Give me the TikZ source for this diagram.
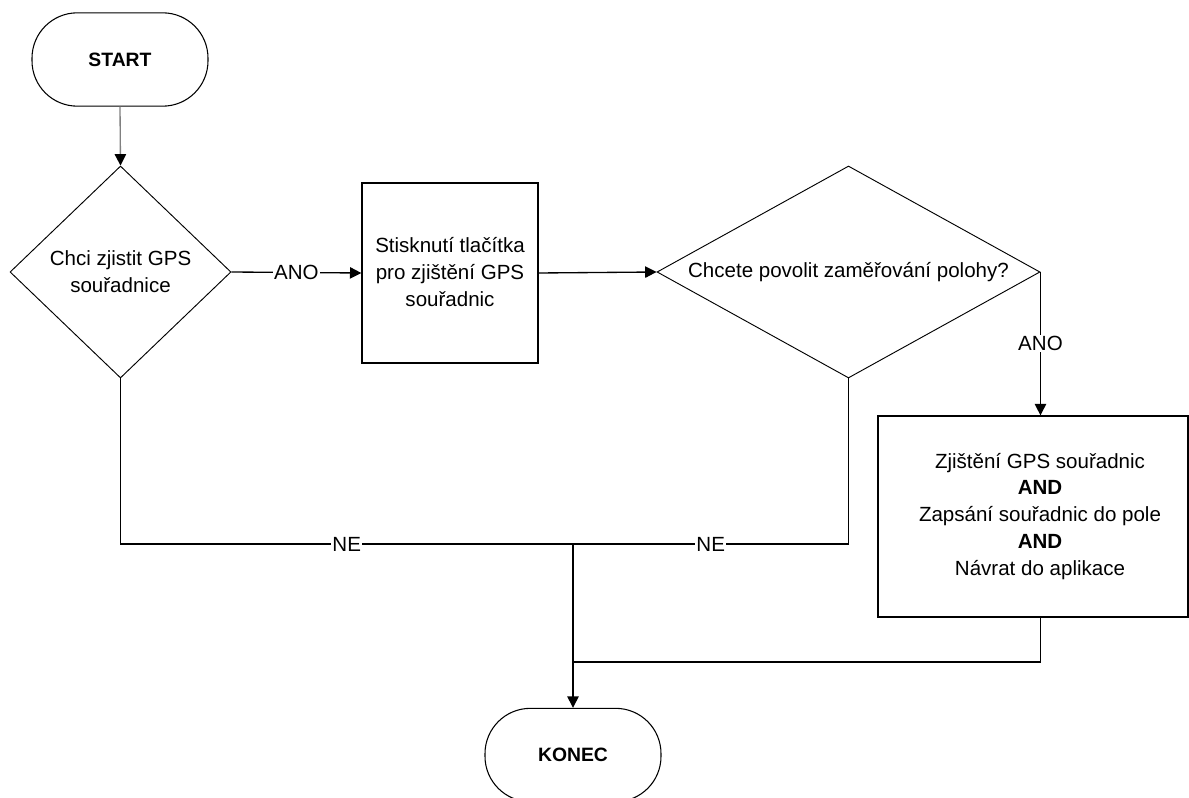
\documentclass[tikz,border=0pt]{standalone}
\usepackage{fontspec}
\setmainfont{Liberation Sans}
\usetikzlibrary{shapes.geometric,arrows.meta}
\begin{document}
\begin{tikzpicture}[x=0.75pt,y=-0.75pt,
  every node/.style={font=\fontsize{15.4pt}{20.2pt}\selectfont, align=center},
  term/.style={draw, line width=0.8pt, rectangle, rounded corners=34pt, minimum width=132pt, minimum height=70pt, inner sep=0pt, font=\fontsize{14.5pt}{18pt}\selectfont\bfseries},
  dec/.style={draw, line width=0.7pt, diamond, inner sep=0pt},
  proc/.style={draw, line width=1pt, rectangle, inner sep=0pt},
  txt/.style={inner sep=0pt},
  lbl/.style={fill=white, inner sep=1pt},
  conn/.style={line width=1pt},
  arr/.style={conn, -{Triangle[length=8.5pt,width=8.5pt]}}
]
\useasboundingbox (0,0) rectangle (1189,798);

\node[term] (start) at (120,59.5) {START};
\node[dec, minimum width=165.75pt, minimum height=159pt] (d1) at (120.5,272) {};
\node[txt] (t1) at (120.5,272) {Chci zjistit GPS\\souřadnice};
\node[proc, minimum width=132pt, minimum height=135pt] (b2) at (450,273) {};
\node[txt] (t2) at (450,272) {Stisknutí tlačítka\\pro zjištění GPS\\souřadnic};
\node[dec, minimum width=287.25pt, minimum height=159pt] (d2) at (848.5,272) {};
\node[txt] (t3) at (848.5,272) {Chcete povolit zaměřování polohy?};
\node[proc, minimum width=232.5pt, minimum height=150.75pt] (b3) at (1033,516.5) {};
\node[txt] (t4) at (1040,516.5) {Zjištění GPS souřadnic\\\textbf{AND}\\Zapsání souřadnic do pole\\\textbf{AND}\\Návrat do aplikace};
\node[term] (konec) at (573,755) {KONEC};

\coordinate (j) at (573,544);
\coordinate (j2) at (573,662);

\draw[arr, draw=gray, -{Triangle[length=8.5pt,width=8.5pt,color=black]}] (start.south) -- (d1.north);
\draw[arr] (d1.east) -- node[lbl]{ANO} (b2.west);
\draw[arr] (b2.east) -- (d2.west);
\draw[arr] (d2.east) -- node[lbl]{ANO} (d2.east |- b3.north);
\draw[conn] (d1.south) |- node[lbl, pos=0.75]{NE} (j);
\draw[conn] (d2.south) |- node[lbl, pos=0.75]{NE} (j);
\draw[conn] (d2.east |- b3.south) |- (j2);
\draw[arr] (j) -- (konec.north);
\end{tikzpicture}
\end{document}
